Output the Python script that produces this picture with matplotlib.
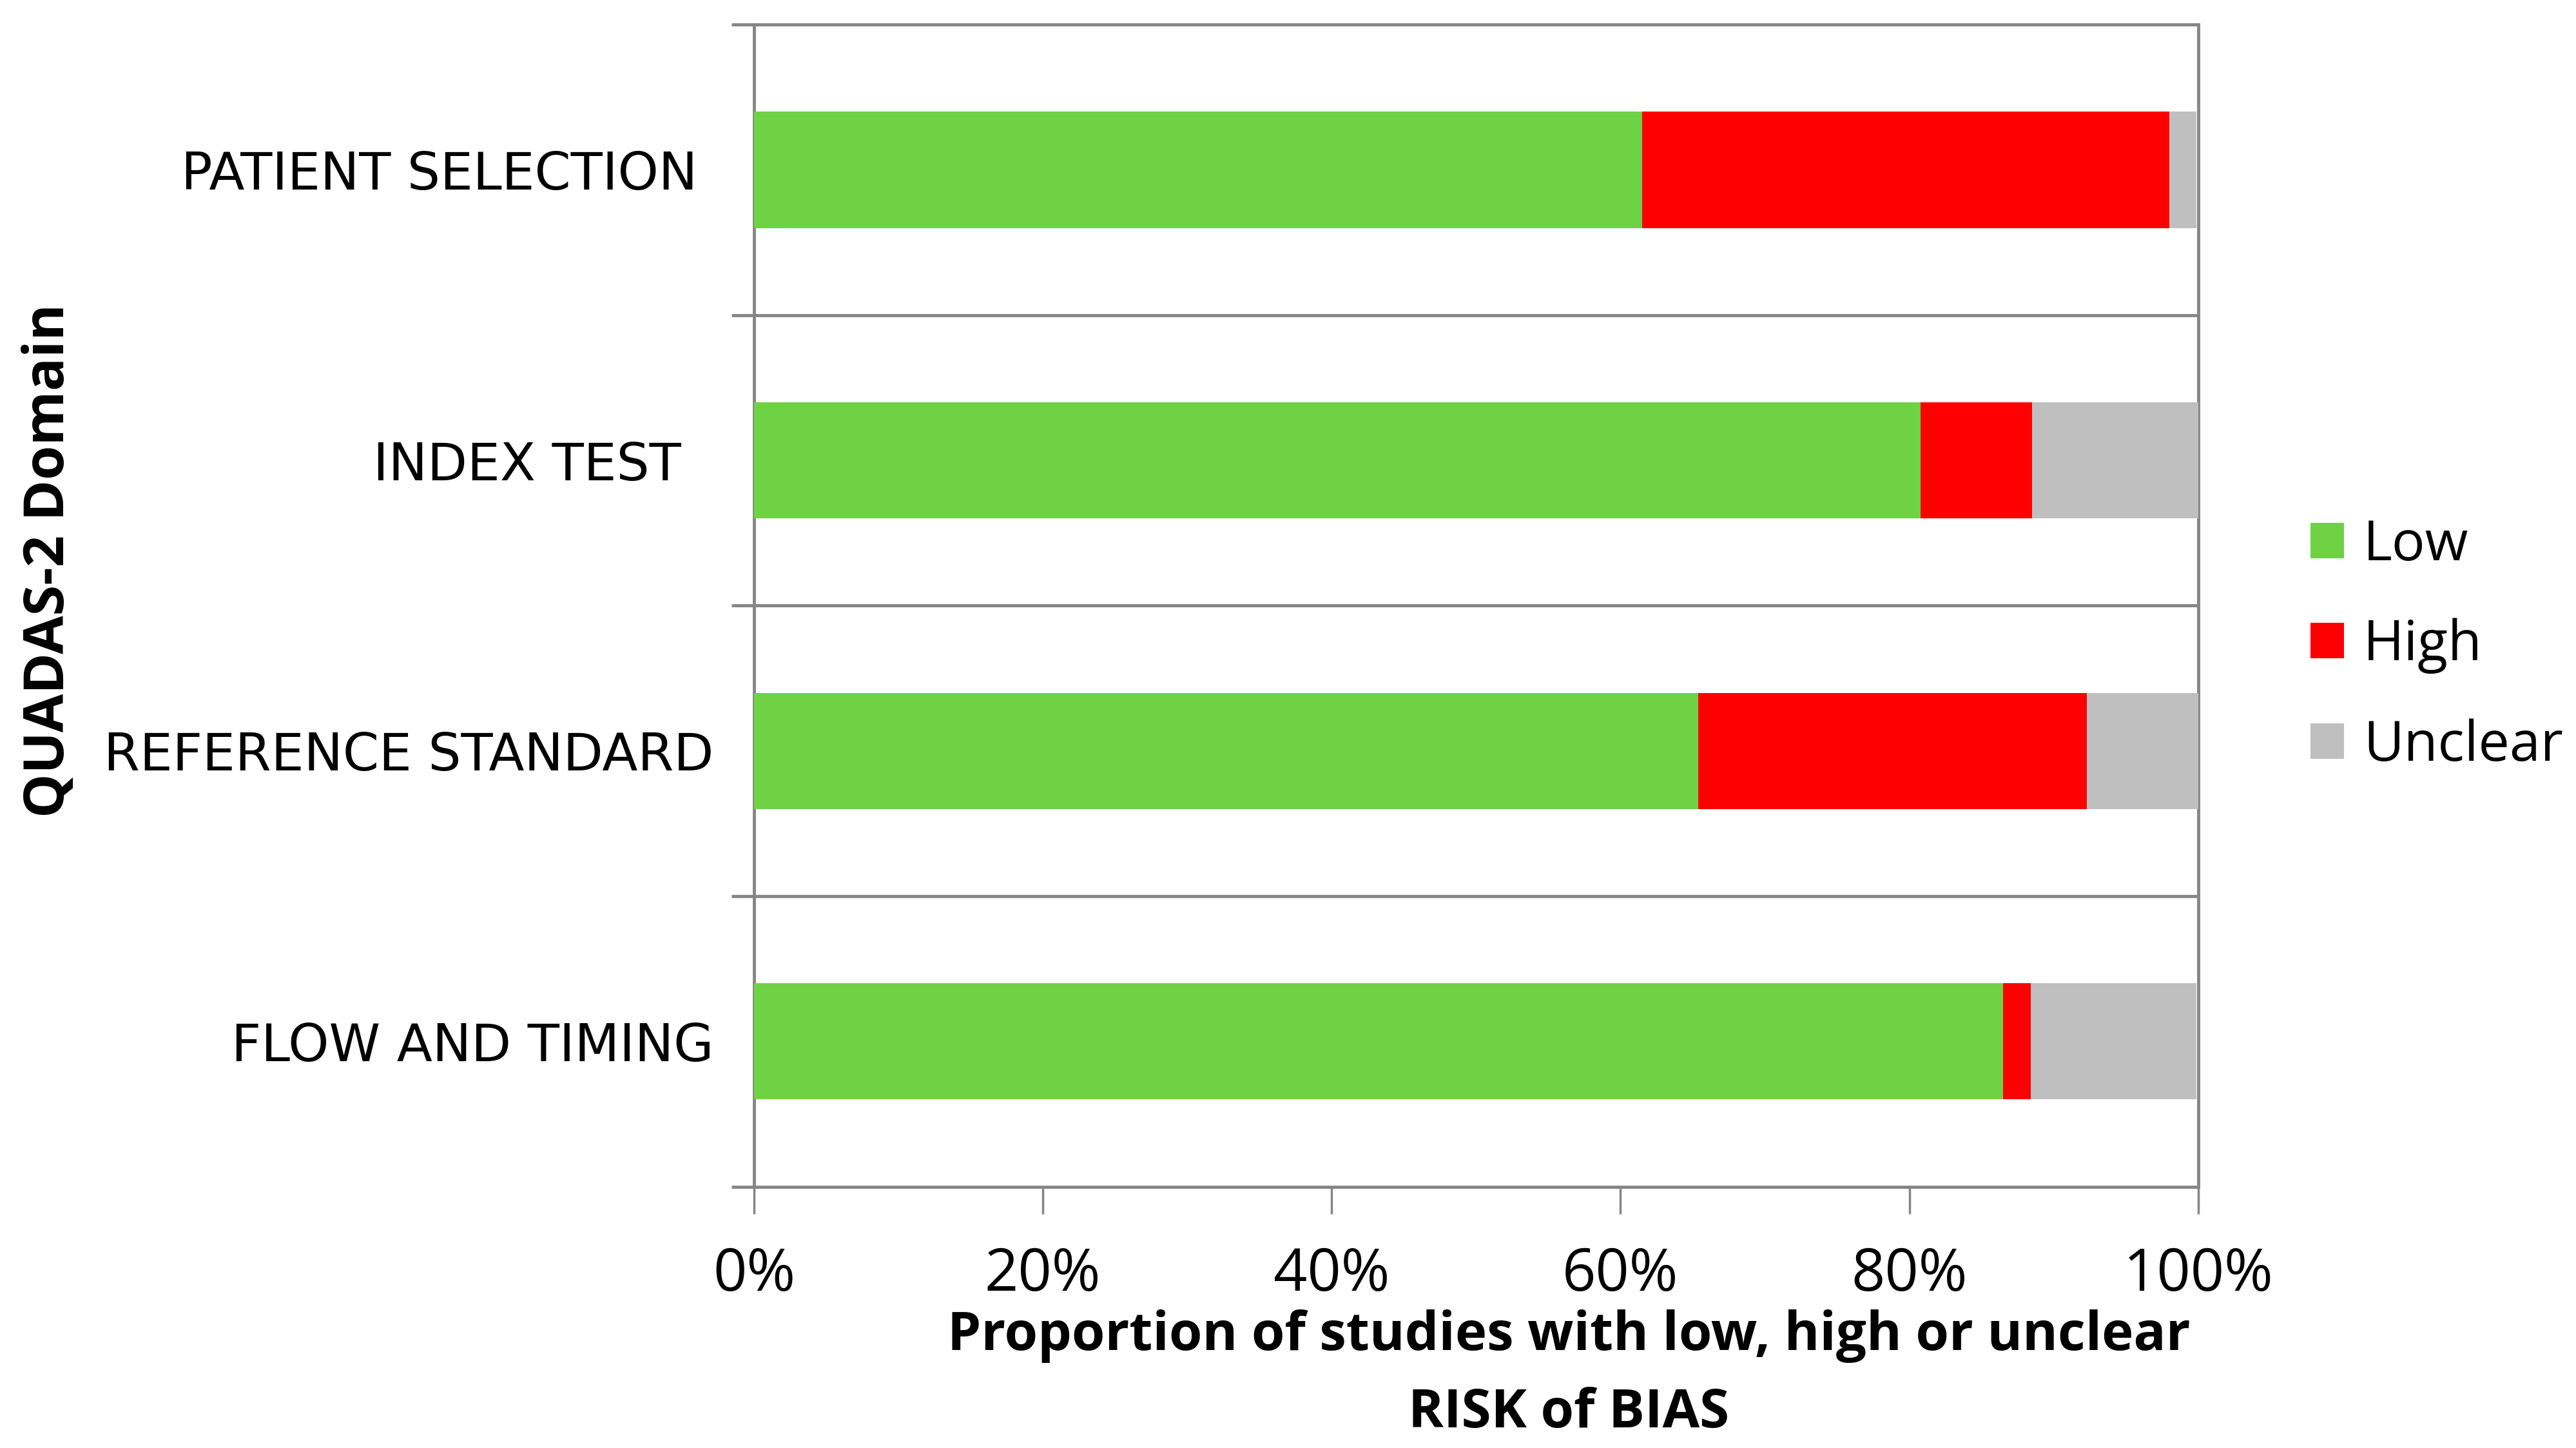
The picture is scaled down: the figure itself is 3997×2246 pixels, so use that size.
import matplotlib
matplotlib.use("Agg")
import matplotlib.pyplot as plt
import numpy as np

categories = ["PATIENT SELECTION ", "INDEX TEST  ", "REFERENCE STANDARD", "FLOW AND TIMING"]
low = [61.5, 80.8, 65.4, 86.5]
high = [36.5, 7.7, 26.9, 1.9]
unclear = [1.9, 11.5, 7.7, 11.5]
series_names = ["Low", "High", "Unclear"]
colors = ["#6fd244", "#fe0000", "#bfbfbf"]
xticks = [0, 20, 40, 60, 80, 100]
xticklabels = ["0%", "20%", "40%", "60%", "80%", "100%"]

W, H = 3997, 2246
fig = plt.figure(figsize=(W / 100, H / 100), dpi=100)
ax = fig.add_axes([459 / 1568, 1 - 722 / 881, (1338 - 459) / 1568, (722 - 15) / 881])

y = np.arange(len(categories))
left = np.zeros(len(categories))
handles = []
for vals, name, c in zip([low, high, unclear], series_names, colors):
    h = ax.barh(y, vals, left=left, height=0.4, color=c, label=name, zorder=3)
    handles.append(h)
    left = left + np.array(vals)

ax.set_xlim(0, 100)
ax.set_ylim(len(categories) - 0.5, -0.5)

gray = "#868686"
for s in ax.spines.values():
    s.set_color(gray)
    s.set_linewidth(3.5)

ax.set_xticks(xticks)
ax.set_xticklabels(xticklabels, fontsize=66, family="Open Sans")
ax.tick_params(axis="x", length=30, width=2.5, color=gray, pad=36)

ax.set_yticks(y)
ax.set_yticklabels(categories, fontsize=58, family="DejaVu Sans")
ax.tick_params(axis="y", which="major", length=0, pad=45)
bounds = np.arange(-0.5, len(categories) + 0.5, 1.0)
ax.set_yticks(bounds, minor=True)
ax.tick_params(axis="y", which="minor", length=25, width=3.5, color=gray)
for b in bounds[1:-1]:
    ax.axhline(b, color=gray, linewidth=3.5, zorder=2)

bold_family = ["Open Sans", "DejaVu Sans"]
fig.text(955 / 1568, 1 - 813 / 881, "Proportion of studies with low, high or unclear",
         ha="center", va="center", fontsize=60, fontweight="bold", family=bold_family)
fig.text(955 / 1568, 1 - 860 / 881, "RISK of BIAS",
         ha="center", va="center", fontsize=60, fontweight="bold", family=bold_family)
fig.text(30 / 1568, 1 - 341 / 881, "QUADAS-2 Domain", rotation=90,
         ha="center", va="center", fontsize=62, fontweight="bold", family=bold_family)

leg = fig.legend(handles=handles, labels=series_names, loc="center left",
                 bbox_to_anchor=(1376 / 1568, 1 - 393 / 881), frameon=False,
                 prop={"family": "Open Sans", "size": 62},
                 handlelength=0.6, handleheight=0.6, handletextpad=0.35, labelspacing=0.8)

fig.savefig("out.png", dpi=100, facecolor="white")
